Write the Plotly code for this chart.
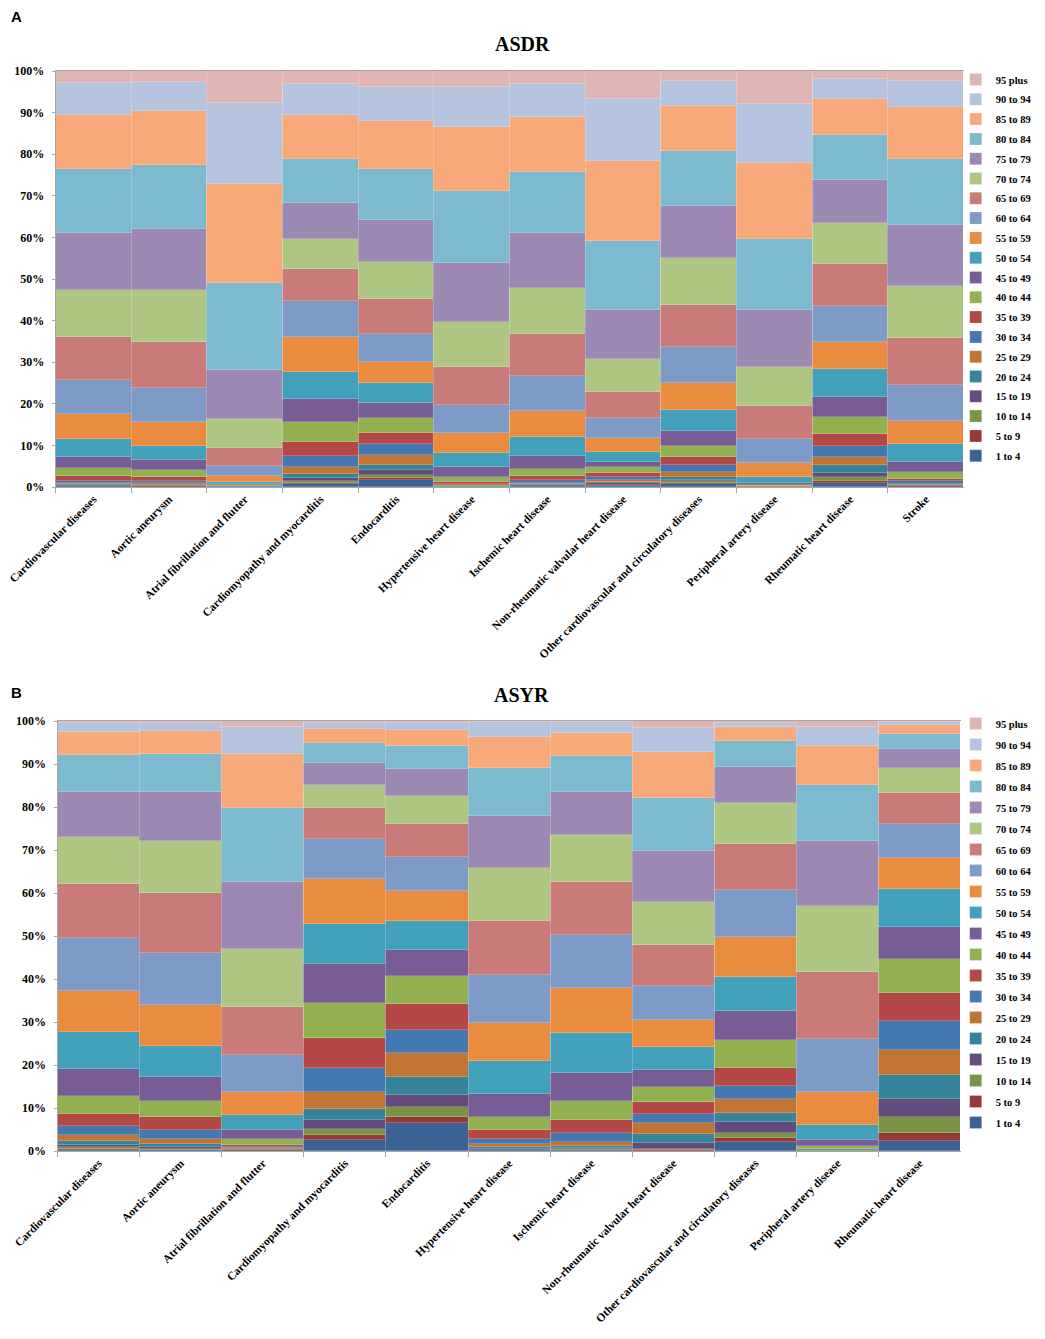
import plotly.graph_objects as go

age_groups = ["1 to 4", "5 to 9", "10 to 14", "15 to 19", "20 to 24", "25 to 29", "30 to 34",
              "35 to 39", "40 to 44", "45 to 49", "50 to 54", "55 to 59", "60 to 64", "65 to 69",
              "70 to 74", "75 to 79", "80 to 84", "85 to 89", "90 to 94", "95 plus"]

colors = ["#3A6294", "#953A38", "#7A9443", "#634B7C", "#35849A", "#C27434", "#4577B0",
          "#B34846", "#93B050", "#775C95", "#43A0BA", "#E98C3F", "#7E9BC8", "#C97B7A",
          "#AFC682", "#9B88B3", "#7DB9CF", "#F8A97A", "#B5C3DE", "#DFB5B4"]

causes_asdr = ["Cardiovascular diseases", "Aortic aneurysm", "Atrial fibrillation and flutter",
               "Cardiomyopathy and myocarditis", "Endocarditis", "Hypertensive heart disease",
               "Ischemic heart disease", "Non-rheumatic valvular heart disease",
               "Other cardiovascular and circulatory diseases", "Peripheral artery disease",
               "Rheumatic heart disease", "Stroke"]

causes_asyr = causes_asdr[:11]

# Share (%) per age group, listed from "1 to 4" up to "95 plus", for each cause
asdr_cardiovascular = [0.15, 0.1, 0.1, 0.15, 0.2, 0.3, 0.5, 1.1, 1.9, 2.6, 4.4, 6.0, 8.2, 10.4, 11.3, 13.7, 15.3, 13.0, 7.6, 3.0]
asdr_aortic = [0.1, 0.1, 0.05, 0.1, 0.15, 0.4, 0.6, 1.0, 1.6, 2.4, 3.4, 5.8, 8.2, 11.0, 12.5, 14.6, 15.4, 13.1, 6.9, 2.6]
asdr_afib = [0.01, 0.01, 0.01, 0.02, 0.02, 0.03, 0.05, 0.1, 0.15, 0.3, 0.6, 1.3, 2.5, 4.2, 7.1, 11.7, 20.9, 23.8, 19.4, 7.8]
asdr_cardiomyopathy = [0.7, 0.3, 0.5, 0.6, 1.0, 1.8, 2.6, 3.4, 4.8, 5.4, 6.6, 8.3, 8.6, 7.8, 7.2, 8.6, 10.6, 10.6, 7.5, 3.1]
asdr_endocarditis = [1.8, 0.4, 0.8, 1.1, 1.3, 2.3, 2.6, 2.8, 3.4, 3.6, 4.8, 5.2, 6.8, 8.3, 8.8, 10.3, 12.1, 11.7, 8.1, 3.8]
asdr_hypertensive = [0.05, 0.05, 0.05, 0.05, 0.1, 0.2, 0.3, 0.5, 1.2, 2.2, 3.4, 4.8, 6.8, 9.2, 10.8, 14.1, 17.4, 15.4, 9.6, 3.8]
asdr_ischemic = [0.15, 0.1, 0.1, 0.1, 0.2, 0.35, 0.6, 1.0, 1.7, 3.1, 4.6, 6.2, 8.6, 10.1, 11.0, 13.2, 14.8, 13.1, 8.0, 3.1]
asdr_valvular = [0.2, 0.2, 0.2, 0.3, 0.4, 0.5, 0.7, 0.9, 1.3, 1.4, 2.4, 3.4, 4.6, 6.3, 8.0, 11.7, 16.6, 19.3, 14.8, 6.8]
asdr_other = [0.7, 0.3, 0.4, 0.4, 0.7, 1.2, 1.6, 1.8, 2.8, 3.6, 5.0, 6.6, 8.6, 10.1, 11.2, 12.5, 13.3, 10.9, 5.9, 2.4]
asdr_peripheral = [0.02, 0.02, 0.02, 0.02, 0.02, 0.05, 0.05, 0.1, 0.2, 0.5, 1.5, 3.2, 5.8, 8.0, 9.4, 13.6, 17.0, 18.3, 14.3, 7.9]
asdr_rheumatic = [0.9, 0.6, 0.8, 1.1, 1.9, 2.0, 2.6, 2.8, 4.2, 4.8, 6.6, 6.6, 8.6, 10.0, 10.0, 10.3, 10.8, 8.7, 4.8, 1.9]
asdr_stroke = [0.1, 0.05, 0.05, 0.1, 0.2, 0.3, 0.6, 0.6, 1.5, 2.5, 4.4, 5.4, 8.7, 11.3, 12.5, 14.8, 15.8, 12.5, 6.4, 2.3]

asyr_cardiovascular = [0.3, 0.2, 0.4, 0.5, 0.9, 1.4, 2.1, 2.8, 4.3, 6.2, 8.6, 9.6, 12.3, 12.5, 11.0, 10.5, 8.6, 5.3, 2.1, 0.4]
asyr_aortic = [0.2, 0.1, 0.2, 0.4, 0.7, 1.3, 2.1, 2.8, 3.8, 5.5, 7.3, 9.6, 12.1, 13.8, 12.3, 11.4, 8.7, 5.4, 1.9, 0.4]
asyr_afib = [0.1, 0.05, 0.1, 0.1, 0.15, 0.2, 0.3, 0.5, 1.4, 2.1, 3.3, 5.4, 8.6, 11.2, 13.6, 15.6, 17.1, 12.6, 6.4, 1.3]
asyr_cardiomyopathy = [2.6, 1.1, 1.4, 2.1, 2.5, 4.1, 5.4, 7.0, 8.3, 8.9, 9.5, 10.3, 9.3, 7.2, 5.4, 5.2, 4.5, 3.3, 1.4, 0.5]
asyr_endocarditis = [6.4, 1.6, 2.3, 2.7, 4.1, 5.6, 5.4, 6.1, 6.5, 6.0, 6.8, 7.0, 7.8, 7.7, 6.6, 6.2, 5.4, 3.7, 1.6, 0.5]
asyr_hypertensive = [0.15, 0.05, 0.1, 0.2, 0.4, 0.7, 1.2, 2.1, 3.1, 5.2, 7.8, 8.7, 11.3, 12.6, 12.3, 12.0, 11.2, 7.1, 3.5, 0.3]
asyr_ischemic = [0.2, 0.1, 0.2, 0.3, 0.4, 1.0, 2.1, 2.8, 4.5, 6.6, 9.2, 10.4, 12.4, 12.4, 10.9, 10.1, 8.3, 5.4, 2.4, 0.3]
asyr_valvular = [0.1, 0.1, 0.2, 1.5, 2.1, 2.4, 2.2, 2.7, 3.7, 3.8, 5.3, 6.4, 7.9, 9.4, 10.1, 11.9, 12.4, 10.7, 5.4, 1.7]
asyr_other = [2.0, 1.1, 1.2, 2.4, 2.2, 3.1, 3.1, 4.2, 6.4, 6.9, 7.9, 9.3, 10.9, 10.8, 9.5, 8.4, 5.9, 3.2, 1.1, 0.4]
asyr_peripheral = [0.05, 0.05, 0.05, 0.05, 0.05, 0.05, 0.1, 0.1, 0.6, 1.4, 3.6, 7.6, 12.4, 15.6, 15.4, 15.1, 13.0, 9.1, 4.5, 1.3]
asyr_rheumatic = [2.3, 2.0, 3.5, 4.4, 5.5, 5.9, 6.6, 6.6, 7.9, 7.5, 8.7, 7.3, 7.8, 7.2, 5.8, 4.4, 3.6, 2.1, 0.7, 0.2]

asdr_rows = [asdr_cardiovascular, asdr_aortic, asdr_afib, asdr_cardiomyopathy, asdr_endocarditis,
             asdr_hypertensive, asdr_ischemic, asdr_valvular, asdr_other, asdr_peripheral,
             asdr_rheumatic, asdr_stroke]
asyr_rows = [asyr_cardiovascular, asyr_aortic, asyr_afib, asyr_cardiomyopathy, asyr_endocarditis,
             asyr_hypertensive, asyr_ischemic, asyr_valvular, asyr_other, asyr_peripheral,
             asyr_rheumatic]

serif = "Liberation Serif, Times New Roman, serif"
sans = "Liberation Sans, Arial, sans-serif"

fig = go.Figure()

n = len(age_groups)
for i, ag in enumerate(age_groups):
    fig.add_trace(go.Bar(
        x=causes_asdr, y=[row[i] for row in asdr_rows], name=ag,
        marker=dict(color=colors[i], line=dict(width=0.6, color="rgba(255,255,255,0.35)")),
        xaxis="x", yaxis="y", legend="legend", legendgroup="A" + ag, legendrank=100 + n - i,
    ))
for i, ag in enumerate(age_groups):
    fig.add_trace(go.Bar(
        x=causes_asyr, y=[row[i] for row in asyr_rows], name=ag,
        marker=dict(color=colors[i], line=dict(width=0.6, color="rgba(255,255,255,0.35)")),
        xaxis="x2", yaxis="y2", legend="legend2", legendgroup="B" + ag, legendrank=100 + n - i,
    ))

# page body adds an 8px offset on each side; positions below are in window pixels
OFF = 8
W, H = 1045 - 2 * OFF, 1339 - OFF

def px_x(p):
    return (p - OFF) / W

def px_y(p):
    return 1 - (p - OFF) / H

axis_common = dict(
    showgrid=False, zeroline=False, showline=True, linecolor="#A6A6A6", linewidth=1,
    automargin=False,
)
xtick_font = dict(family=serif, size=11.5, color="black", weight="bold")
ytick_font = dict(family=serif, size=12, color="black", weight="bold")
legend_font = dict(family=serif, size=10.5, color="black", weight="bold")

fig.update_layout(
    width=W, height=H,
    margin=dict(l=0, r=0, t=0, b=0),
    paper_bgcolor="white", plot_bgcolor="white",
    barmode="stack", barnorm="percent", bargap=0,
    font=dict(family=serif, color="black"),
    xaxis=dict(axis_common, domain=[px_x(56), px_x(973)], anchor="y", type="category",
               tickson="boundaries", ticks="outside", ticklen=5, tickcolor="#A6A6A6",
               tickangle=-45, tickfont=xtick_font, mirror=True),
    yaxis=dict(axis_common, domain=[px_y(487), px_y(71)], anchor="x", range=[0, 100],
               dtick=10, ticksuffix="%", ticks="outside", ticklen=3, tickcolor="#A6A6A6",
               ticklabelstandoff=5, tickfont=ytick_font),
    xaxis2=dict(axis_common, domain=[px_x(58), px_x(970)], anchor="y2", type="category",
                tickson="boundaries", ticks="outside", ticklen=5, tickcolor="#A6A6A6",
                tickangle=-45, tickfont=xtick_font, mirror=True),
    yaxis2=dict(axis_common, domain=[px_y(1151), px_y(721)], anchor="x2", range=[0, 100],
                dtick=10, ticksuffix="%", ticks="outside", ticklen=3, tickcolor="#A6A6A6",
                ticklabelstandoff=5, tickfont=ytick_font),
    legend=dict(x=px_x(965), y=px_y(65), xanchor="left", yanchor="top",
                traceorder="grouped", tracegroupgap=0.8, font=legend_font,
                bgcolor="rgba(0,0,0,0)"),
    legend2=dict(x=px_x(965), y=px_y(709), xanchor="left", yanchor="top",
                 traceorder="grouped", tracegroupgap=2, font=legend_font,
                 bgcolor="rgba(0,0,0,0)"),
    annotations=[
        dict(text="<b>A</b>", x=px_x(9), y=px_y(17), xref="paper", yref="paper",
             xanchor="left", yanchor="middle", showarrow=False,
             font=dict(family=sans, size=15, color="black")),
        dict(text="<b>ASDR</b>", x=px_x(528), y=px_y(44), xref="paper", yref="paper",
             xanchor="center", yanchor="middle", showarrow=False,
             font=dict(family=serif, size=20, color="black")),
        dict(text="<b>B</b>", x=px_x(9), y=px_y(692), xref="paper", yref="paper",
             xanchor="left", yanchor="middle", showarrow=False,
             font=dict(family=sans, size=15, color="black")),
        dict(text="<b>ASYR</b>", x=px_x(527), y=px_y(695), xref="paper", yref="paper",
             xanchor="center", yanchor="middle", showarrow=False,
             font=dict(family=serif, size=20, color="black")),
    ],
)

fig.write_html("out.html")
